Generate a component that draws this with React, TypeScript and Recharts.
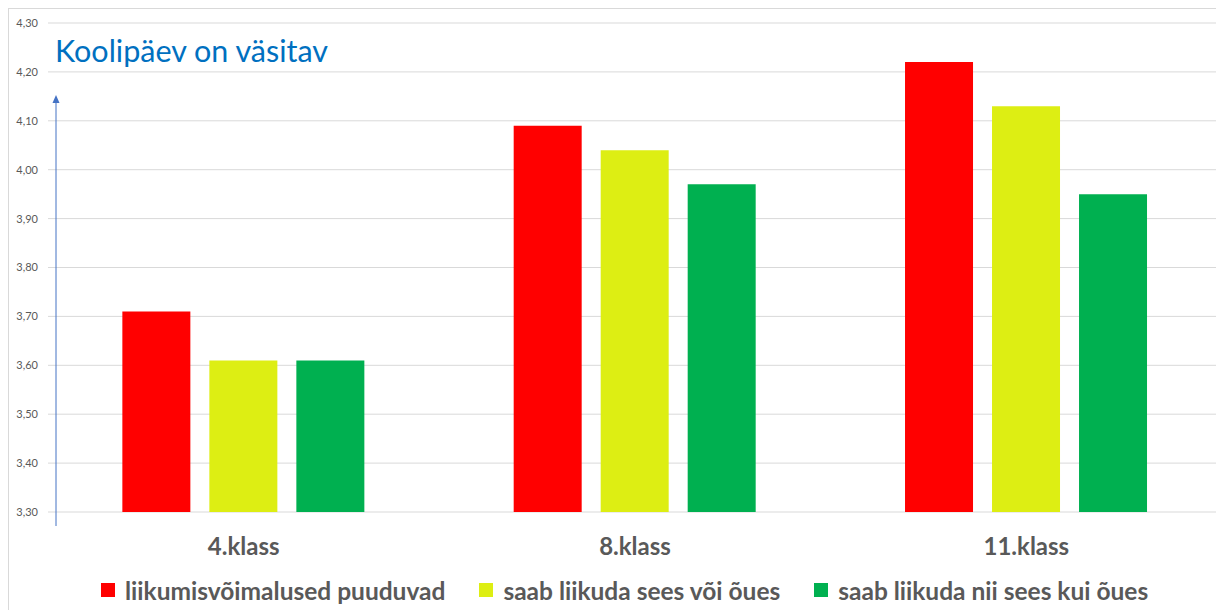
import { BarChart, Bar, XAxis, YAxis, CartesianGrid, Legend } from 'recharts';

const categories = ['4.klass', '8.klass', '11.klass'];
const noOpportunity = [3.71, 4.09, 4.22];
const insideOrOutside = [3.61, 4.04, 4.13];
const insideAndOutside = [3.61, 3.97, 3.95];
const yTicks = [3.3, 3.4, 3.5, 3.6, 3.7, 3.8, 3.9, 4.0, 4.1, 4.2, 4.3];

const seriesNames = [
  'liikumisvõimalused puuduvad',
  'saab liikuda sees või õues',
  'saab liikuda nii sees kui õues',
];
const seriesColors = ['#FF0000', '#DDEE13', '#00B050'];

const data = categories.map((c, i) => ({
  name: c,
  a: noOpportunity[i],
  b: insideOrOutside[i],
  c: insideAndOutside[i],
}));

const FONT = 'Lato, "Open Sans", sans-serif';
const GREY = '#595959';

const renderLegend = () => (
  <div style={{ display: 'flex', justifyContent: 'flex-start', paddingLeft: 92, height: 28, alignItems: 'center' }}>
    {seriesNames.map((n, i) => (
      <div key={n} style={{ display: 'flex', alignItems: 'center', marginRight: 34 }}>
        <span style={{ width: 14, height: 14, background: seriesColors[i], display: 'inline-block', marginRight: 10 }} />
        <span style={{ fontFamily: FONT, fontWeight: 700, fontSize: 24.5, color: GREY }}>{n}</span>
      </div>
    ))}
  </div>
);

export default function App() {
  return (
    <div style={{ position: 'relative', width: 1216, height: 602, border: '1px solid #d9d9d9', borderRight: 'none', borderBottom: 'none', boxSizing: 'border-box', background: '#fff' }}>
      <BarChart
        width={1215}
        height={601}
        data={data}
        margin={{ top: 14, right: 2, left: 0, bottom: 6 }}
        barCategoryGap="19%"
        barGap={19}
      >
        <CartesianGrid vertical={false} stroke="#d9d9d9" />
        <XAxis
          dataKey="name"
          axisLine={false}
          tickLine={false}
          tickSize={0}
          tickMargin={26}
          height={64}
          tick={{ fontFamily: FONT, fontWeight: 700, fontSize: 24, fill: GREY }}
        />
        <YAxis
          domain={[3.3, 4.3]}
          ticks={yTicks}
          width={39}
          axisLine={false}
          tickLine={false}
          tickSize={0}
          tickMargin={10}
          allowDataOverflow
          tickFormatter={(v: number) => v.toFixed(2).replace('.', ',')}
          tick={{ fontFamily: FONT, fontSize: 11, fill: GREY }}
        />
        <Legend verticalAlign="bottom" content={renderLegend} />
        <Bar dataKey="a" name={seriesNames[0]} fill={seriesColors[0]} isAnimationActive={false} />
        <Bar dataKey="b" name={seriesNames[1]} fill={seriesColors[1]} isAnimationActive={false} />
        <Bar dataKey="c" name={seriesNames[2]} fill={seriesColors[2]} isAnimationActive={false} />
      </BarChart>

      {/* title + arrow annotation */}
      <div style={{ position: 'absolute', left: 46, top: 23, fontFamily: FONT, fontSize: 30.5, color: '#0070C0', pointerEvents: 'none' }}>
        Koolipäev on väsitav
      </div>
      <svg style={{ position: 'absolute', left: 0, top: 0, pointerEvents: 'none' }} width={80} height={540}>
        <line x1={47} y1={517} x2={47} y2={92} stroke="#4472C4" strokeWidth={1} />
        <path d="M43.5,94 L47,86 L50.5,94 Z" fill="#4472C4" />
      </svg>
    </div>
  );
}
